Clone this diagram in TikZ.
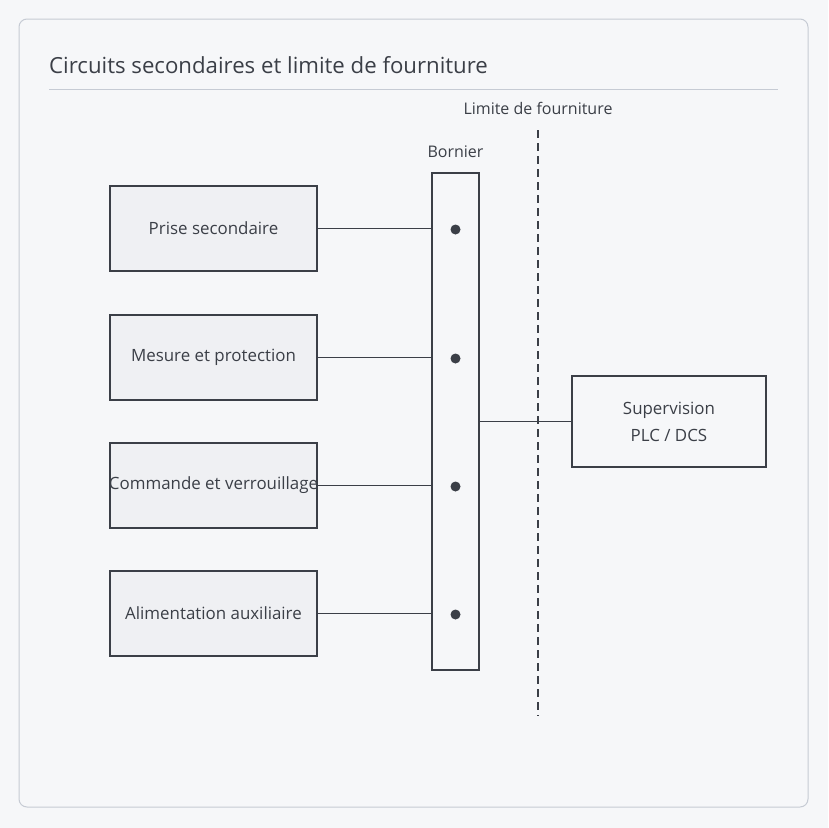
\documentclass[tikz,border=0pt]{standalone}
\usepackage{fontspec}
\setmainfont{Open Sans}
\usetikzlibrary{positioning}
\definecolor{pagebg}{HTML}{F6F7F9}
\definecolor{framegray}{HTML}{C6CBD4}
\definecolor{inkgray}{HTML}{3B3F47}
\definecolor{boxfill}{HTML}{EFF0F3}

\begin{document}
\begin{tikzpicture}[x=1pt, y=-1pt,
  circbox/.style={draw=inkgray, fill=boxfill, line width=1.2pt, inner sep=0pt,
    minimum width=207pt, minimum height=85pt, text=inkgray,
    font=\fontsize{16.9}{20}\selectfont},
  wire/.style={draw=inkgray, line width=1.1pt},
  lbl/.style={text=inkgray, font=\fontsize{16}{19}\selectfont}]
  % page and frame
  \fill[pagebg] (0,0) rectangle (828,828);
  \useasboundingbox (0,0) rectangle (828,828);
  \draw[framegray, line width=1pt, rounded corners=8pt] (19,19) rectangle (808,807);
  \node[anchor=base west, text=inkgray, font=\fontsize{22.2}{26}\selectfont, inner sep=0pt] (title) at (49,73) {Circuits secondaires et limite de fourniture};
  \draw[framegray, line width=1pt] (49,89) -- (778,89);

  % terminal strip
  \node[draw=inkgray, line width=1.2pt, fill=pagebg, minimum width=47pt, minimum height=497pt, inner sep=0pt] (bornier) at (455.5,421.5) {};
  \node[lbl] (bornierlbl) at (455.5,152) {Bornier};

  % secondary circuits
  \foreach \i/\y/\txt in {1/229.5/Prise secondaire, 2/358.5/Mesure et protection,
                          3/486.5/Commande et verrouillage, 4/614.5/Alimentation auxiliaire} {
    \node[circbox] (c\i) at (213.5,\y-1) {\makebox[0pt]{\raisebox{-1pt}{\txt}}};
    \coordinate (p\i) at (455.5,\y);
    \draw[wire] (c\i.east) -- (c\i.east -| bornier.west);
    \fill[inkgray] (p\i) circle (5pt);
  }

  % supply limit
  \node[lbl] (limitlbl) at (538,108) {Limite de fourniture};
  \coordinate (limtop) at (538,130);
  \coordinate (limbot) at (538,716);
  \draw[inkgray, line width=1.1pt, dash pattern=on 8pt off 5pt] (limtop) -- (limbot);

  % supervision
  \node[draw=inkgray, line width=1.2pt, fill=pagebg, minimum width=194pt, minimum height=91pt, inner sep=0pt,
    align=center, text=inkgray, font=\fontsize{16.9}{27}\selectfont] (superv) at (669,421.5) {Supervision\\PLC / DCS};
  \draw[wire] (bornier.east) -- (superv.west);
\end{tikzpicture}
\end{document}
